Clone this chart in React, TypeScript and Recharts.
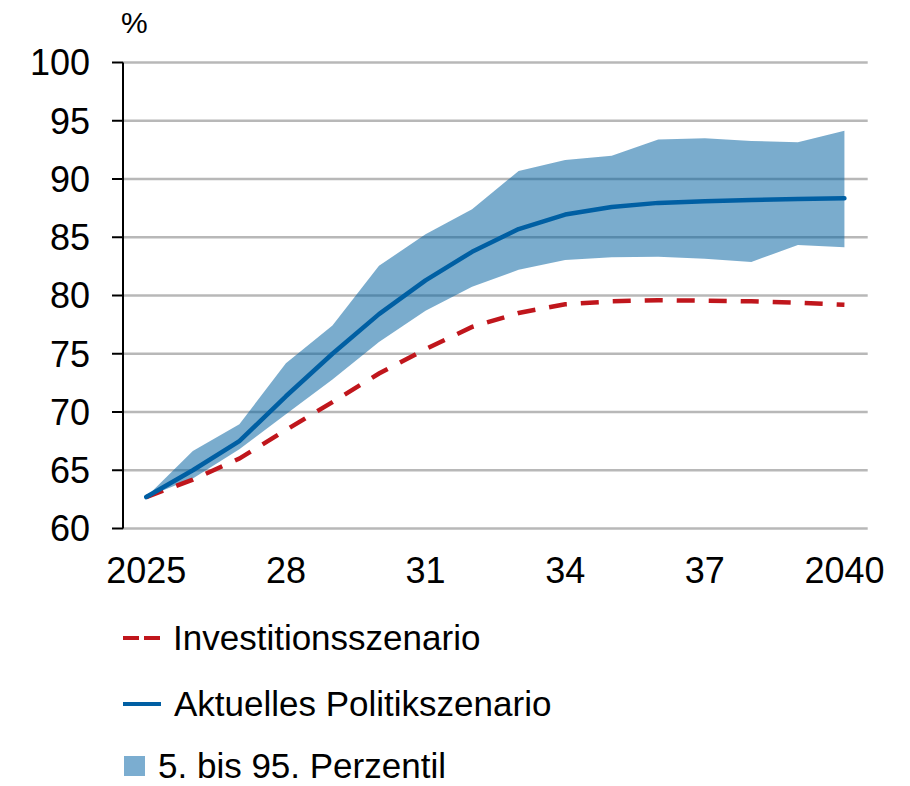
import React from 'react';
import { ComposedChart, Area, Line, XAxis, YAxis, CartesianGrid, Legend } from 'recharts';

const years = [2025, 2026, 2027, 2028, 2029, 2030, 2031, 2032, 2033, 2034, 2035, 2036, 2037, 2038, 2039, 2040];
const investitionsszenario = [62.7, 64.2, 66.0, 68.45, 70.85, 73.3, 75.4, 77.3, 78.5, 79.25, 79.5, 79.6, 79.55, 79.5, 79.38, 79.2];
const politikszenario = [62.7, 65.0, 67.5, 71.35, 75.0, 78.4, 81.3, 83.75, 85.7, 86.95, 87.6, 87.95, 88.1, 88.2, 88.28, 88.35];
const perzentil5 = [62.7, 64.3, 66.8, 69.8, 72.8, 76.0, 78.7, 80.75, 82.2, 83.05, 83.28, 83.33, 83.16, 82.88, 84.33, 84.14];
const perzentil95 = [62.7, 66.65, 68.95, 74.18, 77.42, 82.55, 85.25, 87.4, 90.69, 91.63, 92.0, 93.4, 93.49, 93.27, 93.16, 94.15];

const xTickYears = [2025, 2028, 2031, 2034, 2037, 2040];
const xTickLabels = ['2025', '28', '31', '34', '37', '2040'];
const yTicks = [60, 65, 70, 75, 80, 85, 90, 95, 100];

const legendLabels = ['Investitionsszenario', 'Aktuelles Politikszenario', '5. bis 95. Perzentil'];

const RED = '#c0161c';
const BLUE = '#005fa3';
const BAND = '#0060a0';
const BAND_LEGEND = '#7badd0';

const data = years.map((year, i) => ({
  year,
  invest: investitionsszenario[i],
  current: politikszenario[i],
  p5: perzentil5[i],
  p95: perzentil95[i],
}));

const boundaryTicks = [...years.map((y) => y - 0.5), years[years.length - 1] + 0.5];
const xDomain = [boundaryTicks[0], boundaryTicks[boundaryTicks.length - 1]];

const labelFor = (v: number) => {
  const idx = xTickYears.indexOf(v);
  return idx >= 0 ? xTickLabels[idx] : '';
};

const FONT = '"Liberation Sans", Arial, sans-serif';

const renderLegend = () => (
  <div style={{ height: 196, overflow: 'visible', paddingLeft: 123, paddingTop: 15, boxSizing: 'border-box', fontFamily: FONT, fontSize: 35, color: '#000' }}>
    <div style={{ height: 66, display: 'flex', alignItems: 'center' }}>
      <svg width={37} height={8} style={{ marginRight: 13 }}>
        <line x1={0} y1={4} x2={37} y2={4} stroke={RED} strokeWidth={4} strokeDasharray="16 5" />
      </svg>
      <span style={{ lineHeight: '28px' }}>{legendLabels[0]}</span>
    </div>
    <div style={{ height: 66, display: 'flex', alignItems: 'center' }}>
      <svg width={38} height={8} style={{ marginRight: 13 }}>
        <line x1={0} y1={4} x2={38} y2={4} stroke={BLUE} strokeWidth={4} />
      </svg>
      <span style={{ lineHeight: '28px' }}>{legendLabels[1]}</span>
    </div>
    <div style={{ height: 58, display: 'flex', alignItems: 'center' }}>
      <div style={{ width: 21, height: 20, background: BAND_LEGEND, marginLeft: 1, marginRight: 13 }} />
      <span style={{ lineHeight: '28px' }}>{legendLabels[2]}</span>
    </div>
  </div>
);

export default function App() {
  return (
    <div style={{ position: 'absolute', left: 0, top: 0, width: 910, height: 786, fontFamily: FONT, background: '#fff' }}>
      <div style={{ position: 'absolute', left: 121, top: 8, fontSize: 30, lineHeight: '30px', color: '#000' }}>%</div>
      <ComposedChart width={910} height={786} data={data} margin={{ top: 62.5, right: 42.3, bottom: 0, left: 0 }}>
        <CartesianGrid vertical={false} stroke="#b8b8b8" strokeWidth={2.5} />
        <XAxis
          dataKey="year"
          type="number"
          domain={xDomain}
          ticks={boundaryTicks}
          interval={0}
          height={0}
          tickSize={10}
          tickFormatter={() => ''}
          axisLine={{ stroke: '#000', strokeWidth: 2 }}
          tickLine={{ stroke: '#000', strokeWidth: 2 }}
          allowDataOverflow
        />
        <XAxis
          xAxisId="labels"
          dataKey="year"
          type="number"
          domain={xDomain}
          ticks={xTickYears}
          interval={0}
          height={61.5}
          tickSize={0}
          tickMargin={29}
          axisLine={false}
          tickLine={false}
          tickFormatter={labelFor}
          tick={{ fill: '#000', fontSize: 36 }}
          allowDataOverflow
        />
        <YAxis
          type="number"
          domain={[60, 100]}
          ticks={yTicks}
          interval={0}
          width={123}
          tickSize={11}
          tickMargin={22}
          axisLine={{ stroke: '#000', strokeWidth: 2 }}
          tickLine={{ stroke: '#000', strokeWidth: 2 }}
          tick={{ fill: '#000', fontSize: 36 }}
          allowDataOverflow
        />
        <Area
          type="linear"
          dataKey={(d: any) => [d.p5, d.p95]}
          name={legendLabels[2]}
          stroke="none"
          fill={BAND}
          fillOpacity={0.52}
          isAnimationActive={false}
          activeDot={false}
        />
        <Line
          type="linear"
          dataKey="invest"
          name={legendLabels[0]}
          stroke={RED}
          strokeWidth={4.5}
          strokeDasharray="18 14"
          dot={false}
          activeDot={false}
          isAnimationActive={false}
        />
        <Line
          type="linear"
          dataKey="current"
          name={legendLabels[1]}
          stroke={BLUE}
          strokeWidth={4.5}
          strokeLinejoin="round"
          strokeLinecap="round"
          dot={false}
          activeDot={false}
          isAnimationActive={false}
        />
        <Legend verticalAlign="bottom" align="left" layout="horizontal" content={renderLegend} />
      </ComposedChart>
    </div>
  );
}
